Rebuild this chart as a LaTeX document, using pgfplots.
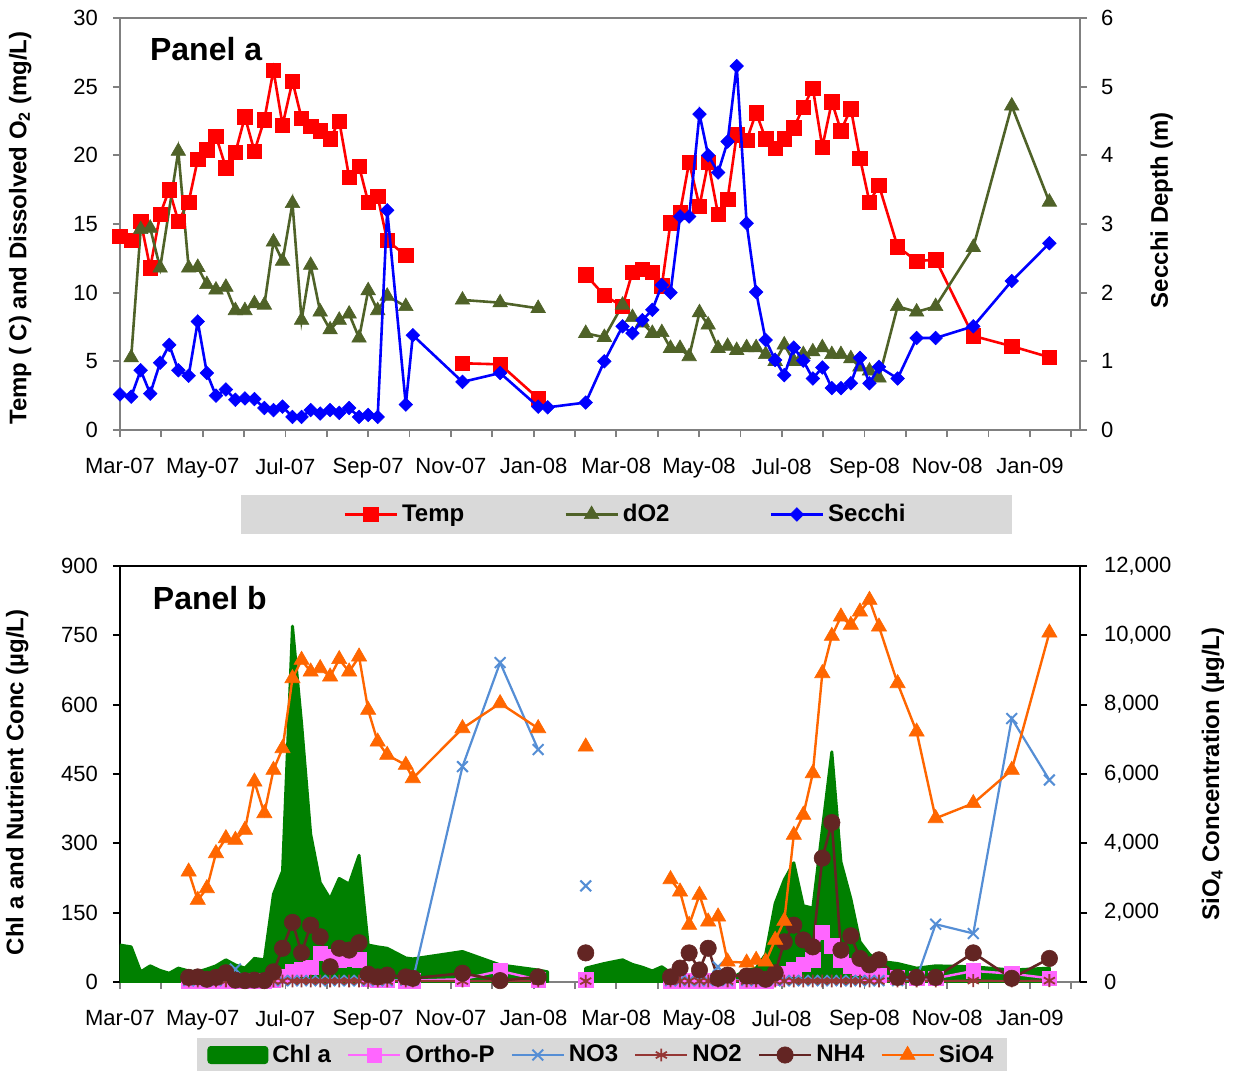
\documentclass[border=0pt]{standalone}
\usepackage{fontspec}
\setmainfont{Liberation Sans}
\usepackage{pgfplots}
\pgfplotsset{compat=1.18}
\definecolor{tempred}{HTML}{FF0000}
\definecolor{doolive}{HTML}{4F6228}
\definecolor{secblue}{HTML}{0000FF}
\definecolor{chlgreen}{HTML}{008000}
\definecolor{opmag}{HTML}{FF66FF}
\definecolor{no3blue}{HTML}{558ED5}
\definecolor{no2red}{HTML}{953735}
\definecolor{nh4brown}{HTML}{632523}
\definecolor{sio4orange}{HTML}{FF6600}
\definecolor{leggray}{HTML}{D9D9D9}
\definecolor{axgray}{HTML}{808080}
\pgfplotsset{
  base/.style={
    width=480pt, scale only axis,
    xmin=0, xmax=23.21,
    /pgf/number format/assume math mode=true,
    tick label style={font=\fontsize{11}{13}\selectfont},
    label style={font=\bfseries\fontsize{12}{14}\selectfont},
    unbounded coords=jump,
    tick align=outside,
    major tick length=3.5pt, minor tick length=3.5pt,
    scaled y ticks=false,
    legend image code/.code={\draw[mark repeat=2,mark phase=2,##1] plot coordinates {(0pt,0pt)(13pt,0pt)(26pt,0pt)};},
  },
  xmonths/.style={
    xtick={0,2,...,22}, minor xtick={1,3,...,23},
    xticklabels={Mar-07,May-07,Jul-07,Sep-07,Nov-07,Jan-08,Mar-08,May-08,Jul-08,Sep-08,Nov-08,Jan-09},
    xticklabel style={yshift=-7pt},
  },
  temp/.style={color=tempred, line width=1.3pt, mark=square*, mark size=3.6pt, mark options={solid,line width=0.3pt}},
  dotwo/.style={color=doolive, line width=1.3pt, mark=triangle*, mark size=4.2pt, mark options={solid,line width=0.3pt}},
  secchi/.style={color=secblue, line width=1.3pt, mark=square*, mark size=2.4pt, mark options={solid,rotate=45,line width=0.3pt}},
  orthop/.style={color=opmag, line width=1.2pt, mark=square*, mark size=3.6pt, mark options={solid,line width=0.3pt}},
  nothree/.style={color=no3blue, line width=1.1pt, mark=x, mark size=3.8pt, mark options={solid,line width=1pt}},
  notwo/.style={color=no2red, line width=1.1pt, mark=asterisk, mark size=3.2pt, mark options={solid,line width=0.9pt}},
  nhfour/.style={color=nh4brown, line width=1.3pt, mark=*, mark size=4.1pt, mark options={solid,line width=0.3pt}},
  siofour/.style={color=sio4orange, line width=1.2pt, mark=triangle*, mark size=4.4pt, mark options={solid,line width=0.3pt}},
}
\begin{document}
\begin{tikzpicture}
% ================= Panel a =================
\begin{axis}[base, xmonths, at={(0pt,0pt)}, anchor=south west, height=206pt,
  axis x line*=bottom, axis y line*=left,
  axis line style={axgray, line width=1.2pt},
  tick style={axgray, line width=0.9pt},
  ymin=0, ymax=30, ytick={0,5,...,30},
  yticklabel style={xshift=-4pt},
  ylabel={Temp (~C) and Dissolved O\textsubscript{2} (mg/L)},
  ylabel style={at={(axis description cs:-0.104,0.49)}, anchor=center},
]
\addplot[temp] coordinates {
(0.00,14.1)(0.27,13.8)(0.50,15.2)(0.73,11.8)(0.97,15.7)(1.19,17.5)(1.41,15.2)(1.66,16.6)(1.88,19.7)(2.10,20.4)
(2.32,21.4)(2.56,19.1)(2.79,20.2)(3.02,22.8)(3.25,20.3)(3.49,22.6)(3.71,26.2)(3.93,22.2)(4.17,25.4)(4.39,22.7)
(4.61,22.1)(4.84,21.8)(5.08,21.2)(5.30,22.5)(5.54,18.4)(5.78,19.2)(6.00,16.6)(6.23,17.0)(6.46,13.8)(6.91,12.7)
(7.5,nan)(8.28,4.86)(9.19,4.78)(10.11,2.3)(10.7,nan)
(11.26,11.3)(11.71,9.8)(12.15,9.0)(12.39,11.5)(12.63,11.7)(12.87,11.5)(13.10,10.5)(13.31,15.1)(13.54,15.85)(13.76,19.5)
(14.01,16.3)(14.22,19.5)(14.46,15.7)(14.69,16.8)(14.91,21.5)(15.15,21.1)(15.38,23.1)(15.61,21.2)(15.84,20.5)(16.06,21.2)
(16.29,22.0)(16.52,23.5)(16.75,24.9)(16.98,20.6)(17.21,23.9)(17.43,21.8)(17.67,23.4)(17.89,19.8)(18.12,16.6)(18.35,17.8)
(18.80,13.35)(19.26,12.3)(19.72,12.4)(20.63,6.85)(21.56,6.1)(22.47,5.3)};
\addplot[dotwo] coordinates {
(0.27,5.27)(0.50,14.6)(0.73,14.7)(0.97,11.8)(1.41,20.3)(1.66,11.8)(1.88,11.85)(2.10,10.6)(2.32,10.2)(2.56,10.4)
(2.79,8.7)(3.02,8.7)(3.25,9.2)(3.49,9.1)(3.71,13.7)(3.93,12.3)(4.17,16.5)(4.39,8.0)(4.61,12.0)(4.84,8.6)
(5.08,7.3)(5.30,8.0)(5.54,8.45)(5.78,6.7)(6.00,10.15)(6.23,8.7)(6.46,9.75)(6.91,9.0)
(7.5,nan)(8.28,9.47)(9.19,9.27)(10.11,8.86)(10.7,nan)
(11.26,7.04)(11.71,6.75)(12.15,9.1)(12.39,8.2)(12.63,7.8)(12.87,7.04)(13.10,7.1)(13.31,5.95)(13.54,5.95)(13.76,5.35)
(14.01,8.55)(14.22,7.65)(14.46,5.95)(14.69,6.1)(14.91,5.8)(15.15,6.0)(15.38,6.0)(15.61,5.5)(15.84,5.0)(16.06,6.2)
(16.29,5.0)(16.52,5.5)(16.75,5.7)(16.98,6.0)(17.21,5.5)(17.43,5.5)(17.67,5.2)(17.89,4.6)(18.12,4.3)(18.35,3.8)
(18.80,9.0)(19.26,8.6)(19.72,9.0)(20.63,13.3)(21.56,23.6)(22.47,16.6)};
\node[anchor=west, font=\bfseries\fontsize{16}{19}\selectfont] at (rel axis cs:0.024,0.925) {Panel a};
\end{axis}
\begin{axis}[base, at={(0pt,0pt)}, anchor=south west, height=206pt,
  axis x line*=top, axis y line*=right,
  axis line style={axgray, line width=1.2pt},
  tick style={axgray, line width=0.9pt},
  xtick=\empty,
  ymin=0, ymax=6, ytick={0,1,...,6},
  yticklabel style={xshift=3.5pt},
  ylabel={Secchi Depth (m)},
  ylabel style={at={(axis description cs:1.085,0.534)}, anchor=center},
  legend style={at={(axis description cs:0.5276,-0.205)}, anchor=center, fill=leggray, draw=none,
    legend columns=3, font=\bfseries\fontsize{12}{14}\selectfont,
    /tikz/every even column/.append style={column sep=48pt},
    inner xsep=51pt, inner ysep=2.5pt},
]
\addlegendimage{temp}\addlegendentry{Temp}
\addlegendimage{dotwo}\addlegendentry{dO2}
\addplot[secchi] coordinates {
(0.00,0.52)(0.27,0.485)(0.50,0.87)(0.73,0.53)(0.97,0.98)(1.19,1.24)(1.41,0.87)(1.66,0.79)(1.88,1.58)(2.10,0.83)
(2.32,0.50)(2.56,0.59)(2.79,0.44)(3.02,0.46)(3.25,0.45)(3.49,0.32)(3.71,0.29)(3.93,0.34)(4.17,0.19)(4.39,0.19)
(4.61,0.29)(4.84,0.24)(5.08,0.29)(5.30,0.25)(5.54,0.32)(5.78,0.19)(6.00,0.22)(6.23,0.19)(6.46,3.20)(6.91,0.37)
(7.08,1.38)(8.28,0.70)(9.19,0.83)(10.11,0.34)(10.34,0.33)(11.26,0.40)(11.71,1.0)(12.15,1.51)(12.39,1.41)(12.63,1.60)
(12.87,1.75)(13.10,2.11)(13.31,2.0)(13.54,3.11)(13.76,3.11)(14.01,4.60)(14.22,4.0)(14.46,3.75)(14.69,4.2)(14.91,5.3)
(15.15,3.01)(15.38,2.01)(15.61,1.31)(15.84,1.02)(16.06,0.80)(16.29,1.2)(16.52,1.01)(16.75,0.75)(16.98,0.91)(17.21,0.61)
(17.43,0.61)(17.67,0.68)(17.89,1.05)(18.12,0.68)(18.35,0.92)(18.80,0.75)(19.26,1.34)(19.72,1.34)(20.63,1.51)(21.56,2.17)
(22.47,2.72)};
\addlegendentry{Secchi}
\end{axis}
% ================= Panel b =================
\begin{axis}[base, xmonths, at={(0pt,-276pt)}, anchor=south west, height=208pt,
  axis x line*=bottom, axis y line*=left,
  x axis line style={axgray, line width=1.2pt},
  y axis line style={black, line width=1.1pt},
  xtick style={axgray, line width=0.9pt},
  ytick style={black, line width=0.9pt},
  ymin=0, ymax=900, ytick={0,150,...,900},
  yticklabel style={xshift=-4pt},
  ylabel={Chl a and Nutrient Conc (µg/L)},
  ylabel style={at={(axis description cs:-0.107,0.48)}, anchor=center},
]
\addplot[fill=chlgreen, draw=chlgreen, line width=1.5pt, line join=round] coordinates {
(0.00,80)(0.27,76)(0.50,22)(0.73,35)(0.97,25)(1.19,19)(1.41,30)(1.66,24)(1.88,22)(2.10,28)
(2.32,35)(2.56,48)(2.79,37)(3.02,30)(3.25,51)(3.49,48)(3.71,190)(3.93,240)(4.17,770)(4.39,560)
(4.61,320)(4.84,215)(5.08,180)(5.30,224)(5.54,212)(5.78,274)(6.00,80)(6.23,76)(6.46,73)(6.91,52)
(7.08,50)(8.28,66)(9.19,37)(10.11,26)(10.34,22)} \closedcycle;
\addplot[fill=chlgreen, draw=chlgreen, line width=1.5pt, line join=round] coordinates {
(11.26,30)(11.71,40)(12.15,48)(12.39,38)(12.63,32)(12.87,24)(13.10,33)(13.31,20)(13.54,20)(13.76,15)
(14.01,12)(14.22,12)(14.46,11)(14.69,11)(14.91,15)(15.15,25)(15.38,30)(15.61,60)(15.84,170)(16.06,221)
(16.29,258)(16.52,165)(16.75,160)(16.98,330)(17.21,498)(17.43,260)(17.67,180)(17.89,87)(18.12,60)(18.35,45)
(18.80,40)(19.26,30)(19.72,35)(20.63,33)(21.56,26)(22.47,30)} \closedcycle;
\addplot[orthop] coordinates {
(1.66,3)(1.88,3)(2.10,3)(2.32,3)(2.56,3)(2.79,3)(3.02,3)(3.25,3)(3.49,3)(3.71,5)
(3.93,12)(4.17,22)(4.39,28)(4.61,32)(4.84,62)(5.08,56)(5.30,48)(5.54,50)(5.78,48)(6.00,6)
(6.23,4)(6.46,4)(6.91,3)(7.08,3)(8.28,6)(9.19,24)(10.11,5)(10.7,nan)(11.26,5)(12.3,nan)
(13.31,3)(13.54,3)(13.76,3)(14.01,3)(14.22,3)(14.46,3)(14.69,3)(15.15,3)(15.38,3)(15.61,3)
(15.84,8)(16.06,18)(16.29,28)(16.52,38)(16.75,48)(16.98,108)(17.21,78)(17.43,48)(17.67,35)(17.89,30)
(18.12,20)(18.35,15)(18.80,10)(19.26,8)(19.72,8)(20.63,24)(21.56,18)(22.47,8)};
\addplot[nothree] coordinates {
(1.66,3)(1.88,3)(2.10,3)(2.32,3)(2.56,5)(2.79,28)(3.02,3)(3.25,3)(3.49,3)(3.71,3)
(3.93,3)(4.17,3)(4.39,3)(4.61,3)(4.84,3)(5.08,3)(5.30,3)(5.54,3)(5.78,3)(6.00,3)
(6.23,3)(6.46,3)(6.91,4)(7.08,4)(8.28,466)(9.19,691)(10.11,503)(10.7,nan)(11.26,208)(12.3,nan)
(13.31,3)(13.54,3)(13.76,3)(14.01,3)(14.22,3)(14.46,33)(14.69,3)(15.15,3)(15.38,3)(15.61,3)
(15.84,3)(16.06,3)(16.29,3)(16.52,3)(16.75,3)(16.98,3)(17.21,3)(17.43,3)(17.67,3)(17.89,3)
(18.12,3)(18.35,3)(18.80,3)(19.26,8)(19.72,125)(20.63,105)(21.56,570)(22.47,437)};
\addplot[notwo] coordinates {
(1.66,2)(1.88,2)(2.10,2)(2.32,2)(2.56,2)(2.79,2)(3.02,2)(3.25,2)(3.49,2)(3.71,2)
(3.93,2)(4.17,2)(4.39,2)(4.61,2)(4.84,2)(5.08,2)(5.30,2)(5.54,2)(5.78,2)(6.00,2)
(6.23,2)(6.46,2)(6.91,2)(7.08,2)(8.28,2)(9.19,2)(10.11,2)(10.7,nan)(11.26,2)(12.3,nan)
(13.31,2)(13.54,2)(13.76,2)(14.01,2)(14.22,2)(14.46,2)(14.69,2)(15.15,2)(15.38,2)(15.61,2)
(15.84,2)(16.06,2)(16.29,2)(16.52,2)(16.75,2)(16.98,2)(17.21,2)(17.43,2)(17.67,2)(17.89,2)
(18.12,2)(18.35,2)(18.80,2)(19.26,2)(19.72,2)(20.63,3)(21.56,2)(22.47,3)};
\addplot[nhfour] coordinates {
(1.66,10)(1.88,11)(2.10,6)(2.32,10)(2.56,20)(2.79,4)(3.02,3)(3.25,4)(3.49,3)(3.71,22)
(3.93,73)(4.17,129)(4.39,63)(4.61,123)(4.84,98)(5.08,33)(5.30,73)(5.54,69)(5.78,85)(6.00,17)
(6.23,11)(6.46,15)(6.91,11)(7.08,8)(8.28,19)(9.19,3)(10.11,11)(10.7,nan)(11.26,63)(12.3,nan)
(13.31,11)(13.54,30)(13.76,63)(14.01,26)(14.22,73)(14.46,8)(14.69,15)(15.15,13)(15.38,13)(15.61,6)
(15.84,20)(16.06,87)(16.29,123)(16.52,91)(16.75,76)(16.98,268)(17.21,345)(17.43,69)(17.67,100)(17.89,51)
(18.12,37)(18.35,48)(18.80,10)(19.26,10)(19.72,10)(20.63,63)(21.56,8)(22.47,51)};
\node[anchor=west, font=\bfseries\fontsize{16}{19}\selectfont] at (rel axis cs:0.027,0.923) {Panel b};
\end{axis}
\begin{axis}[base, at={(0pt,-276pt)}, anchor=south west, height=208pt,
  axis x line*=top, axis y line*=right,
  axis line style={black, line width=1.1pt},
  tick style={black, line width=0.9pt},
  xtick=\empty,
  ymin=0, ymax=12000, ytick={0,2000,...,12000},
  yticklabel style={xshift=5pt, /pgf/number format/1000 sep={,}},
  ylabel={SiO\textsubscript{4} Concentration (µg/L)},
  ylabel style={at={(axis description cs:1.1385,0.5)}, anchor=center},
  legend style={at={(axis description cs:0.5026,-0.1755)}, anchor=center, fill=leggray, draw=none,
    legend columns=6, font=\bfseries\fontsize{12}{14}\selectfont,
    /tikz/every even column/.append style={column sep=6pt},
    inner xsep=5pt, inner ysep=1.5pt},
]
\addlegendimage{legend image code/.code={\fill[chlgreen, rounded corners=1.5pt] (0pt,-4.3pt) rectangle (30pt,4.3pt);}}
\addlegendentry{Chl a}
\addlegendimage{orthop}\addlegendentry{Ortho-P}
\addlegendimage{nothree}\addlegendentry{NO3}
\addlegendimage{notwo}\addlegendentry{NO2}
\addlegendimage{nhfour}\addlegendentry{NH4}
\addplot[siofour] coordinates {
(1.66,3182)(1.88,2365)(2.10,2702)(2.32,3712)(2.56,4144)(2.79,4096)(3.02,4385)(3.25,5778)(3.49,4866)(3.71,6115)
(3.93,6741)(4.17,8760)(4.39,9288)(4.61,8951)(4.84,9049)(5.08,8807)(5.30,9309)(5.54,8951)(5.78,9384)(6.00,7846)
(6.23,6932)(6.46,6548)(6.91,6260)(7.08,5876)(8.28,7318)(9.19,8039)(10.11,7318)(10.7,nan)(11.26,6788)(12.3,nan)
(13.31,2962)(13.54,2605)(13.76,1644)(14.01,2510)(14.22,1740)(14.46,1885)(14.69,586)(15.15,557)(15.38,635)(15.61,586)
(15.84,1212)(16.06,1760)(16.29,4240)(16.52,4817)(16.75,6020)(16.98,8904)(17.21,9980)(17.43,10538)(17.67,10298)(17.89,10682)
(18.12,11019)(18.35,10249)(18.80,8616)(19.26,7220)(19.72,4722)(20.63,5155)(21.56,6115)(22.47,10076)};
\addlegendentry{SiO4}
\end{axis}
\pgfresetboundingbox
\path[use as bounding box] (-60pt,-320.5pt) rectangle (556.5pt,215pt);
\end{tikzpicture}
\end{document}
